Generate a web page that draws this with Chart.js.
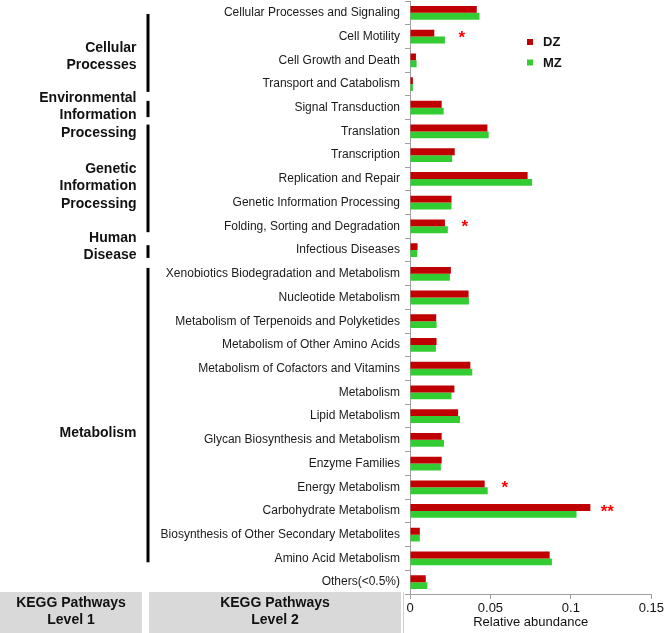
<!DOCTYPE html>
<html>
<head>
<meta charset="utf-8">
<script src="https://cdn.jsdelivr.net/npm/chart.js@4.4.1/dist/chart.umd.min.js"></script>
<style>
  html, body { margin: 0; padding: 0; background: #fff; }
  #wrap { position: relative; width: 666px; height: 633px; }
</style>
</head>
<body>
<div id="wrap"><canvas id="chart" width="666" height="633"></canvas></div>
<script>
// KEGG level 2 categories (top to bottom)
const categories = [
    "Cellular Processes and Signaling", "Cell Motility", "Cell Growth and Death", "Transport and Catabolism",
    "Signal Transduction",
    "Translation", "Transcription", "Replication and Repair", "Genetic Information Processing", "Folding, Sorting and Degradation",
    "Infectious Diseases",
    "Xenobiotics Biodegradation and Metabolism", "Nucleotide Metabolism", "Metabolism of Terpenoids and Polyketides",
    "Metabolism of Other Amino Acids", "Metabolism of Cofactors and Vitamins", "Metabolism", "Lipid Metabolism",
    "Glycan Biosynthesis and Metabolism", "Enzyme Families", "Energy Metabolism", "Carbohydrate Metabolism",
    "Biosynthesis of Other Secondary Metabolites", "Amino Acid Metabolism",
    "Others(<0.5%)"
];
const dzValues = [0.0415, 0.0151, 0.0037, 0.0018, 0.0197, 0.0481, 0.0278, 0.0731, 0.0258, 0.0217,
    0.0047, 0.0254, 0.0364, 0.0163, 0.0165, 0.0375, 0.0276, 0.0299, 0.0197, 0.0197,
    0.0464, 0.1121, 0.0061, 0.0868, 0.0098];
const mzValues = [0.0432, 0.0217, 0.0041, 0.0018, 0.0209, 0.0489, 0.0262, 0.0759, 0.0258, 0.0235,
    0.0045, 0.0248, 0.0366, 0.0165, 0.0161, 0.0387, 0.0258, 0.0311, 0.0211, 0.0192,
    0.0483, 0.1035, 0.0061, 0.0882, 0.0108];
const significance = ["", "*", "", "", "", "", "", "", "", "*",
    "", "", "", "", "", "", "", "", "", "",
    "*", "**", "", "", ""];
const xTicks = [0, 0.05, 0.1, 0.15];

// KEGG level 1 groups: label lines, first and last category index
const groupNames = [["Cellular", "Processes"], ["Environmental", "Information", "Processing"],
    ["Genetic", "Information", "Processing"], ["Human", "Disease"], ["Metabolism"]];
const groupFirst = [0, 4, 5, 10, 11];
const groupLast = [3, 4, 9, 10, 23];
// layout of the group brackets / text (px insets, category index units)
const groupTopInset = [13, 5, 5, 7, 6];
const groupBottomInset = [4, 2.5, 6, 4, 8];
const groupTextAt = [1.85, 4.32, 7.31, 9.86, 17.72];

const fontFamily = "'Liberation Sans', Arial, sans-serif";
const dzColor = "#c00000";
const mzColor = "#33cc33";

const extras = {
    id: "extras",
    afterDraw(chart) {
        const ctx = chart.ctx;
        const xs = chart.scales.x;
        const ys = chart.scales.y;
        const row = ys.getPixelForValue(1) - ys.getPixelForValue(0);
        ctx.save();

        // level 1 brackets and names
        groupNames.forEach(function (lines, i) {
            const top = ys.getPixelForValue(groupFirst[i]) - row / 2 + groupTopInset[i];
            const bottom = ys.getPixelForValue(groupLast[i]) + row / 2 - groupBottomInset[i];
            ctx.fillStyle = "#000";
            ctx.fillRect(146.5, top, 3, bottom - top);
            ctx.font = "bold 14px " + fontFamily;
            ctx.textAlign = "right";
            ctx.textBaseline = "middle";
            ctx.fillStyle = "#111";
            const mid = ys.getPixelForValue(0) + groupTextAt[i] * row;
            const lh = 17.5;
            lines.forEach(function (t, k) {
                ctx.fillText(t, 136.5, mid + (k - (lines.length - 1) / 2) * lh);
            });
        });

        // significance stars
        ctx.fillStyle = "#ff0000";
        ctx.font = "bold 17px " + fontFamily;
        ctx.textAlign = "center";
        ctx.textBaseline = "alphabetic";
        significance.forEach(function (s, i) {
            if (!s) return;
            const v = Math.max(dzValues[i], mzValues[i]);
            const x = xs.getPixelForValue(v) + 17;
            const y = ys.getPixelForValue(i) + 6;
            ctx.fillText(s, x, y);
        });

        // legend
        const legend = [["DZ", dzColor], ["MZ", mzColor]];
        ctx.font = "bold 13px " + fontFamily;
        ctx.textAlign = "left";
        ctx.textBaseline = "middle";
        legend.forEach(function (l, k) {
            const y = 42 + k * 20.5;
            ctx.fillStyle = l[1];
            ctx.fillRect(527, y - 3, 6, 6);
            ctx.fillStyle = "#111";
            ctx.fillText(l[0], 543, y + 0.5);
        });

        // header boxes at the bottom
        ctx.fillStyle = "#d9d9d9";
        ctx.fillRect(0, 592, 142, 41);
        ctx.fillRect(149, 592, 252, 41);
        ctx.fillStyle = "#cfcfcf";
        ctx.fillRect(403, 592, 1, 41);
        ctx.fillStyle = "#111";
        ctx.font = "bold 14px " + fontFamily;
        ctx.textAlign = "center";
        ctx.fillText("KEGG Pathways", 71, 603.5);
        ctx.fillText("Level 1", 71, 620.5);
        ctx.fillText("KEGG Pathways", 275, 603.5);
        ctx.fillText("Level 2", 275, 620.5);
        ctx.restore();
    }
};

new Chart(document.getElementById("chart"), {
    type: "bar",
    data: {
        labels: categories,
        datasets: [
            { label: "DZ", backgroundColor: dzColor, data: dzValues },
            { label: "MZ", backgroundColor: mzColor, data: mzValues }
        ]
    },
    options: {
        indexAxis: "y",
        responsive: false,
        animation: false,
        devicePixelRatio: 1,
        layout: { padding: { top: 1, right: 0, left: 0, bottom: 0 } },
        datasets: { bar: { categoryPercentage: 0.58, barPercentage: 1.0 } },
        plugins: { legend: { display: false }, tooltip: { enabled: false } },
        scales: {
            y: {
                grid: { drawOnChartArea: false, offset: true, tickLength: 5, color: "#a0a0a0" },
                border: { color: "#a0a0a0", width: 1 },
                ticks: { autoSkip: false, padding: 5, color: "#1a1a1a", font: { size: 12, family: fontFamily } },
                afterFit: function (s) {
                    s.width = 410;
                    s.paddingTop = 0;
                    s.paddingBottom = 0;
                }
            },
            x: {
                min: 0,
                max: 0.15,
                grid: { drawOnChartArea: false, tickLength: 5, color: "#a0a0a0" },
                border: { color: "#a0a0a0", width: 1 },
                afterBuildTicks: function (s) { s.ticks = xTicks.map(function (v) { return { value: v }; }); },
                ticks: {
                    padding: 2,
                    color: "#111",
                    font: { size: 13, family: fontFamily },
                    callback: function (v) { return String(+v.toFixed(2)); }
                },
                title: {
                    display: true,
                    text: "Relative abundance",
                    color: "#111",
                    font: { size: 13, family: fontFamily },
                    padding: { top: 0, bottom: 3 }
                },
                afterFit: function (s) { s.height = 39; }
            }
        }
    },
    plugins: [extras]
});
</script>
</body>
</html>
